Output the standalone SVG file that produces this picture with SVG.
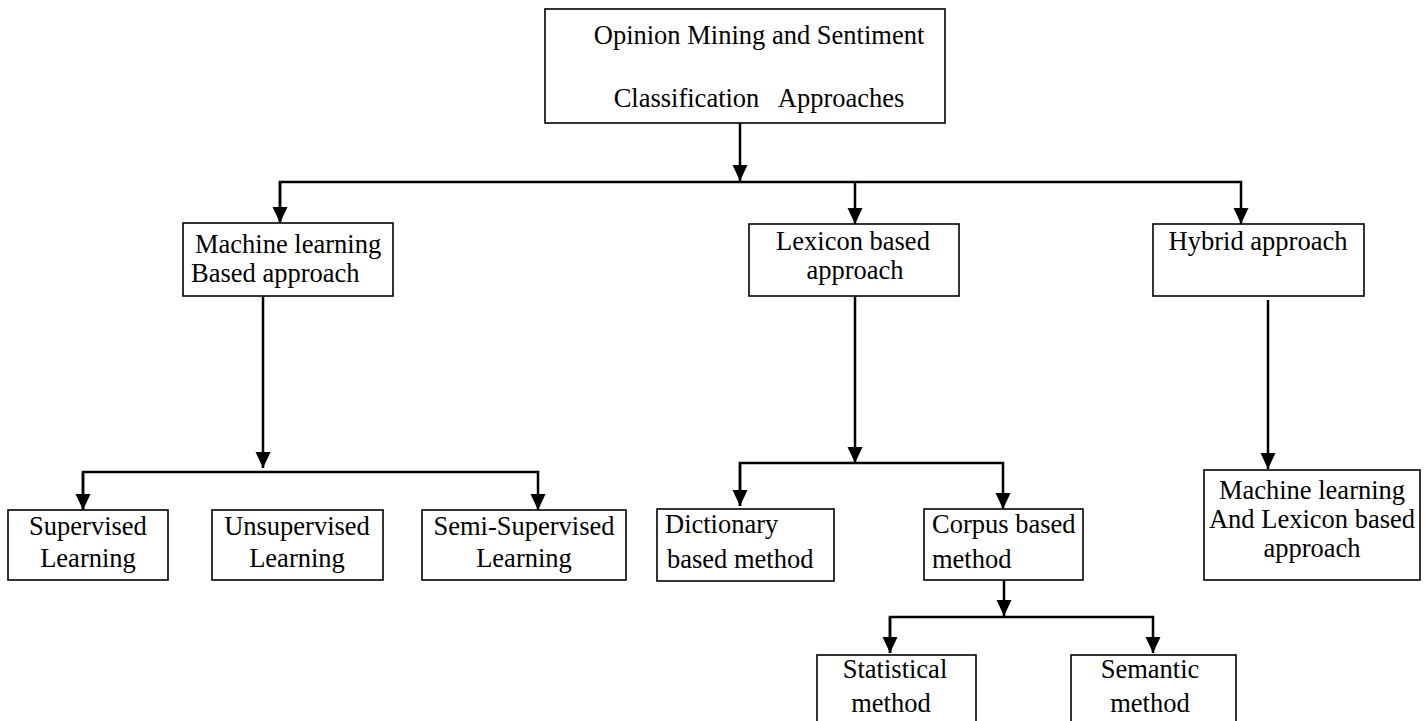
<svg xmlns="http://www.w3.org/2000/svg" width="1425" height="721" viewBox="0 0 1425 721">
<style>
.box{fill:#fff;stroke:#000;stroke-width:1.6}
.c{fill:none;stroke:#000;stroke-width:2.5}
text{font-family:"Liberation Serif","Times New Roman",serif;font-size:26.5px;fill:#000;white-space:pre}
.m{text-anchor:middle}
</style>
<defs>
<marker id="ah" markerUnits="userSpaceOnUse" markerWidth="17" markerHeight="17" viewBox="0 0 17 17" refX="16" refY="8.5" orient="auto">
<path d="M0,1 L16,8.5 L0,16 Z" fill="#000"/>
</marker>
</defs>
<rect width="1425" height="721" fill="#fff"/>
<g id="connectors">
<line class="c" x1="740" y1="123" x2="740" y2="181" marker-end="url(#ah)"/>
<polyline class="c" points="280,223 280,182 1241,182 1241,224" marker-end="url(#ah)"/>
<line class="c" x1="280" y1="182" x2="280" y2="223" marker-end="url(#ah)"/>
<line class="c" x1="855" y1="182" x2="855" y2="224" marker-end="url(#ah)"/>
<line class="c" x1="263" y1="296" x2="263" y2="468" marker-end="url(#ah)"/>
<polyline class="c" points="83,510 83,472 538,472 538,510" marker-end="url(#ah)"/>
<line class="c" x1="83" y1="472" x2="83" y2="510" marker-end="url(#ah)"/>
<line class="c" x1="855" y1="296" x2="855" y2="463" marker-end="url(#ah)"/>
<polyline class="c" points="740,506 740,463 1003,463 1003,509" marker-end="url(#ah)"/>
<line class="c" x1="740" y1="463" x2="740" y2="506" marker-end="url(#ah)"/>
<line class="c" x1="1004" y1="580" x2="1004" y2="616" marker-end="url(#ah)"/>
<polyline class="c" points="890,653 890,617 1153,617 1153,653" marker-end="url(#ah)"/>
<line class="c" x1="890" y1="617" x2="890" y2="653" marker-end="url(#ah)"/>
<line class="c" x1="1268" y1="300" x2="1268" y2="469" marker-end="url(#ah)"/>
</g>
<g id="root">
<rect class="box" x="545" y="9" width="400" height="114"/>
<text class="m" x="759" y="44">Opinion Mining and Sentiment</text>
<text class="m" x="759" y="107">Classification   Approaches</text>
</g>
<g id="ml">
<rect class="box" x="183" y="223" width="210" height="73"/>
<text x="195" y="253">Machine learning</text>
<text x="191" y="282">Based approach</text>
</g>
<g id="lexicon">
<rect class="box" x="749" y="224" width="210" height="72"/>
<text class="m" x="853" y="250">Lexicon based</text>
<text class="m" x="855" y="279">approach</text>
</g>
<g id="hybrid">
<rect class="box" x="1153" y="224" width="211" height="72"/>
<text class="m" x="1258" y="250">Hybrid approach</text>
</g>
<g id="supervised">
<rect class="box" x="8" y="510" width="160" height="70"/>
<text class="m" x="88" y="535">Supervised</text>
<text class="m" x="88" y="567">Learning</text>
</g>
<g id="unsupervised">
<rect class="box" x="212" y="510" width="171" height="70"/>
<text class="m" x="297" y="535">Unsupervised</text>
<text class="m" x="297" y="567">Learning</text>
</g>
<g id="semi">
<rect class="box" x="422" y="510" width="204" height="70"/>
<text class="m" x="524" y="535">Semi-Supervised</text>
<text class="m" x="524" y="567">Learning</text>
</g>
<g id="dictionary">
<rect class="box" x="657" y="509" width="177" height="72"/>
<text x="665" y="533">Dictionary</text>
<text x="667" y="568">based method</text>
</g>
<g id="corpus">
<rect class="box" x="924" y="509" width="159" height="71"/>
<text x="932" y="533">Corpus based</text>
<text x="932" y="568">method</text>
</g>
<g id="hybridml">
<rect class="box" x="1204" y="470" width="216" height="110"/>
<text class="m" x="1312" y="499">Machine learning</text>
<text class="m" x="1312" y="528">And Lexicon based</text>
<text class="m" x="1312" y="557">approach</text>
</g>
<g id="statistical">
<rect class="box" x="817" y="655" width="159" height="80"/>
<text class="m" x="895" y="678">Statistical</text>
<text class="m" x="891" y="712">method</text>
</g>
<g id="semantic">
<rect class="box" x="1071" y="655" width="165" height="80"/>
<text class="m" x="1150" y="678">Semantic</text>
<text class="m" x="1150" y="712">method</text>
</g>
</svg>
